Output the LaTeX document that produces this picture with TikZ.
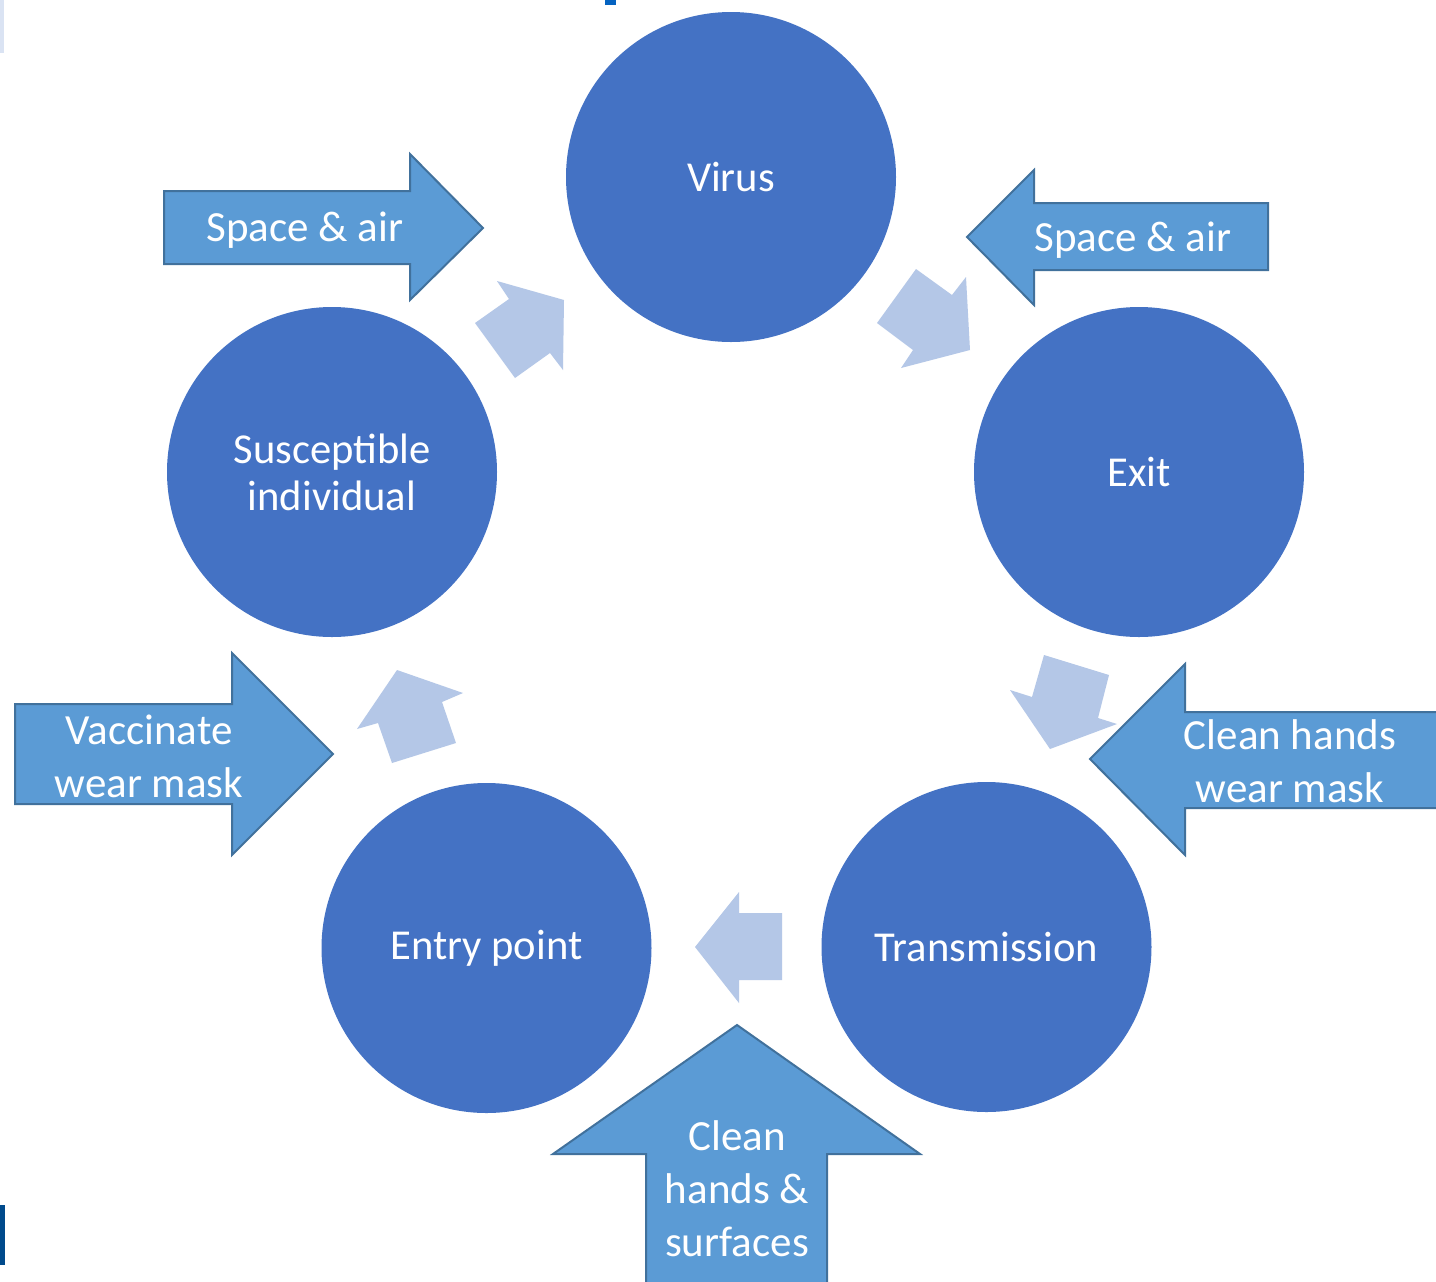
\documentclass[tikz,border=0pt]{standalone}
\usepackage{fontspec}
\setmainfont{Carlito}
\definecolor{circ}{HTML}{4472C4}
\definecolor{lite}{HTML}{B4C7E7}
\definecolor{bigf}{HTML}{5B9BD5}
\definecolor{bigd}{HTML}{41719C}
\definecolor{barl}{HTML}{DAE3F3}
\definecolor{bard}{HTML}{004A8C}
\definecolor{titl}{HTML}{0563C1}
\tikzset{
  stage/.style={circle, fill=circ, minimum size=330*0.5pt, inner sep=0pt, text=white, align=center,
     font=\fontsize{21.3}{23.5}\selectfont},
  cyc/.style={fill=lite},
  bigarrow/.style={fill=bigf, draw=bigd, line width=1pt, line join=miter},
  bigtext/.style={text=white, align=center, inner sep=0pt, font=\fontsize{21.5}{26.5}\selectfont}
}
\begin{document}
\begin{tikzpicture}[x=0.5pt,y=-0.5pt]
\clip (0,0) rectangle (1436,1281);
\fill[white] (0,0) rectangle (1436,1281);
% slide remnants
\fill[barl] (0,0) rectangle (4,53);
\fill[bard] (0,1205) rectangle (5,1265);
\fill[titl] (605,0) rectangle (616,5);
% stages
\node[stage] (virus) at (731,177) {Virus};
\node[stage] (exit) at (1139,472) {Exit};
\node[stage] (trans) at (986.5,947) {Transmission};
\node[stage] (entry) at (486.5,948) {Entry point};
\node[stage] (susc) at (332,472) {Susceptible\\individual};
% cycle arrows
\fill[cyc] (877,323) -- (916,269) -- (952,295) -- (966,277) -- (970,350) -- (901,368) -- (913,350) -- cycle;
\fill[cyc] (1044,655) -- (1109,675) -- (1098,718) -- (1117,724) -- (1050,749) -- (1010,690) -- (1032,697) -- cycle;
\fill[cyc] (782,913) -- (782,980) -- (739,980) -- (739,1003) -- (695,947) -- (739,892) -- (739,913) -- cycle;
\fill[cyc] (392,763) -- (456,743) -- (442,702) -- (463,693) -- (397,670) -- (357,729) -- (378,723) -- cycle;
\fill[cyc] (475,323) -- (515,378) -- (550,353) -- (563,370) -- (564,300) -- (497,281) -- (509,299) -- cycle;
% intervention arrows
\draw[bigarrow] (164,191) -- (410,191) -- (410,154) -- (483,228) -- (410,300) -- (410,264) -- (164,264) -- cycle;
\node[bigtext] (sa1) at (305,230) {Space \& air};
\draw[bigarrow] (1268,203) -- (1034,203) -- (1034,170) -- (967,237) -- (1034,305) -- (1034,270) -- (1268,270) -- cycle;
\node[bigtext] (sa2) at (1133,240) {Space \& air};
\draw[bigarrow] (15,704) -- (232,704) -- (232,653) -- (333,754) -- (232,855) -- (232,804) -- (15,804) -- cycle;
\node[bigtext] (vac) at (149,756) {Vaccinate\\wear mask};
\draw[bigarrow] (1445,712) -- (1185,712) -- (1185,664) -- (1090,759) -- (1185,855) -- (1185,808) -- (1445,808) -- cycle;
\node[bigtext] (chm) at (1290,761) {Clean hands\\wear mask};
\draw[bigarrow] (646,1290) -- (646,1154) -- (553,1154) -- (737,1025) -- (920,1154) -- (827,1154) -- (827,1290) -- cycle;
\node[bigtext] (chs) at (737,1189) {Clean\\hands \&\\surfaces};
\end{tikzpicture}
\end{document}
